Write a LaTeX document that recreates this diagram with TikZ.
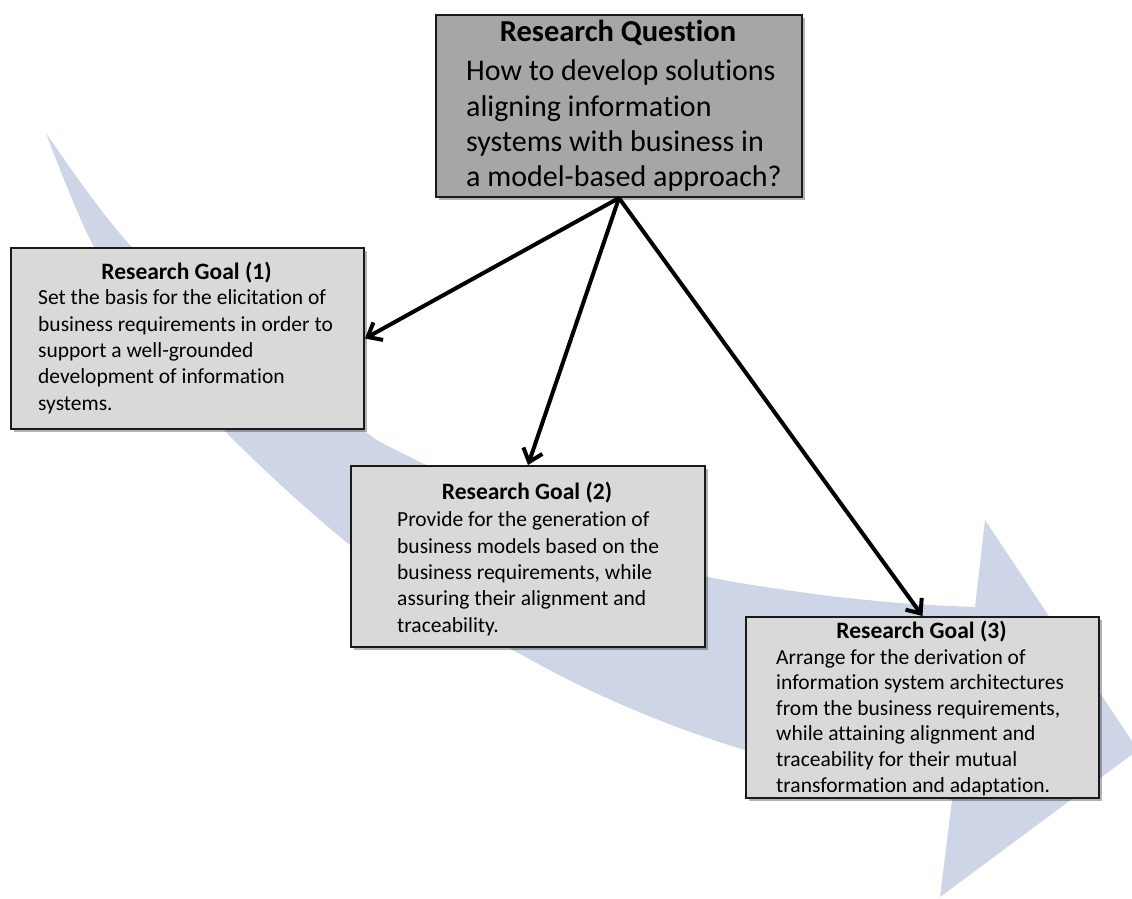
\documentclass[tikz,border=0pt]{standalone}
\usepackage{fontspec}
\setmainfont{Carlito}[Ligatures=CommonOff]
\usetikzlibrary{arrows.meta,shadows}
\definecolor{bandblue}{HTML}{CDD5E6}
\definecolor{qfill}{HTML}{A6A6A6}
\definecolor{gfill}{HTML}{D9D9D9}
\definecolor{edgegray}{HTML}{1A1A1A}
\begin{document}
\begin{tikzpicture}[x=1pt,y=-1pt,
  box/.style={draw=edgegray, line width=2pt, anchor=north west, inner sep=0pt,
    drop shadow={shadow xshift=2.5pt,shadow yshift=-2.5pt,opacity=.3,fill=black}},
  qbox/.style={box, fill=qfill},
  gbox/.style={box, fill=gfill},
  qtitle/.style={font=\fontsize{30.5}{34}\selectfont\bfseries, inner sep=0pt},
  qbody/.style={font=\fontsize{30}{35.3}\selectfont, align=left, anchor=north west, inner sep=0pt},
  gtitle/.style={font=\fontsize{23.5}{27}\selectfont\bfseries, inner sep=0pt},
  gbody/.style={font=\fontsize{21.5}{26.4}\selectfont, align=left, anchor=north west, inner sep=0pt},
  link/.style={line width=4pt, -{Straight Barb[length=12pt,width=20pt]}}
]
\clip (0,0) rectangle (1132,898);
\useasboundingbox (0,0) rectangle (1132,898);

% wide curved arrow in the background
\fill[bandblue]
  plot[smooth, tension=0.55] coordinates {(46,133) (130,245) (245,345) (360,428) (400,452)
      (540,518) (680,570) (800,592) (900,603) (975,607)}
  -- (985,520) -- (1138,750) -- (940,897) -- (952,800)
  -- plot[smooth, tension=0.55] coordinates {(952,800) (745,750) (600,695) (470,625)
      (350,545) (222,428) (160,345) (93,245) (46,133)}
  -- cycle;

% question box
\node[qbox, minimum width=366pt, minimum height=182pt] (q) at (435,14) {};
\node[qtitle] (qt) at (618,33) {Research Question};
\node[qbody] (qb) at (466,59.8) {How to develop solutions\\aligning information\\systems with business in\\a model-based approach?};

% goal boxes
\node[gbox, minimum width=353pt, minimum height=181pt] (g1) at (10,247) {};
\node[gtitle] (g1t) at (186.5,273) {Research Goal (1)};
\node[gbody] (g1b) at (38,289.5) {Set the basis for the elicitation of\\business requirements in order to\\support a well-grounded\\development of information\\systems.};

\node[gbox, minimum width=354pt, minimum height=181pt] (g2) at (350,465) {};
\node[gtitle] (g2t) at (527,493) {Research Goal (2)};
\node[gbody] (g2b) at (397,511.5) {Provide for the generation of\\business models based on the\\business requirements, while\\assuring their alignment and\\traceability.};

\node[gbox, minimum width=353pt, minimum height=181pt] (g3) at (745,616) {};
\node[gtitle] (g3t) at (921.5,632) {Research Goal (3)};
\node[gbody, font=\fontsize{21.5}{25.6}\selectfont] (g3b) at (776,649) {Arrange for the derivation of\\information system architectures\\from the business requirements,\\while attaining alignment and\\traceability for their mutual\\transformation and adaptation.};

% connectors
\draw[link] (q.south) -- (g1.east);
\draw[link] (q.south) -- (g2.north);
\draw[link] (q.south) -- (g3.north);
\end{tikzpicture}
\end{document}
